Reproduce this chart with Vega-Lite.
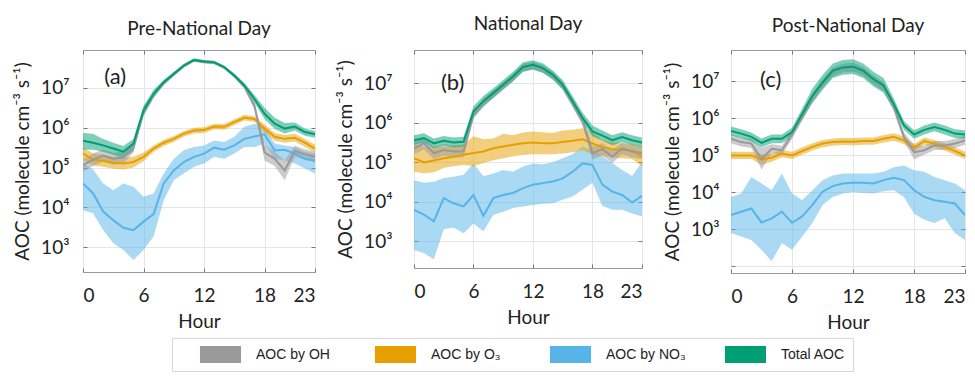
{
"$schema": "https://vega.github.io/schema/vega-lite/v6.json",
"padding": {"left": 13, "top": 4, "right": 2, "bottom": 2},
"spacing": 20,
"columns": 3,
"align": "none",
"config": {
  "font": "Lato",
  "view": {"stroke": "#9a9a9a"},
  "axis": {"domain": false, "labelFont": "Lato", "labelFontSize": 19, "labelColor": "#222", "titleFont": "Lato", "titleFontSize": 19, "titleFontWeight": "normal", "titleColor": "#222", "gridColor": "#e6e6e6", "tickColor": "#777"},
  "title": {"font": "Lato", "fontSize": 19, "fontWeight": "normal", "color": "#222"}
},
"data": {"values": [
{"panel":"a","series":"AOC by NO₃","hour":0,"mean":4.0e4,"lo":8.5e3,"hi":1.26e5},
{"panel":"a","series":"AOC by NO₃","hour":1,"mean":2.24e4,"lo":7.1e3,"hi":8.9e4},
{"panel":"a","series":"AOC by NO₃","hour":2,"mean":7.9e3,"lo":2.7e3,"hi":4.0e4},
{"panel":"a","series":"AOC by NO₃","hour":3,"mean":4.8e3,"lo":1.26e3,"hi":2.7e4},
{"panel":"a","series":"AOC by NO₃","hour":4,"mean":3.1e3,"lo":850,"hi":4.0e4},
{"panel":"a","series":"AOC by NO₃","hour":5,"mean":2.7e3,"lo":480,"hi":3.3e4},
{"panel":"a","series":"AOC by NO₃","hour":6,"mean":4.4e3,"lo":850,"hi":1.86e4},
{"panel":"a","series":"AOC by NO₃","hour":7,"mean":6.8e3,"lo":1.86e3,"hi":2.24e4},
{"panel":"a","series":"AOC by NO₃","hour":8,"mean":4.0e4,"lo":1.51e4,"hi":7.1e4},
{"panel":"a","series":"AOC by NO₃","hour":9,"mean":8.5e4,"lo":4.8e4,"hi":1.66e5},
{"panel":"a","series":"AOC by NO₃","hour":10,"mean":1.38e5,"lo":7.1e4,"hi":2.7e5},
{"panel":"a","series":"AOC by NO₃","hour":11,"mean":1.86e5,"lo":1.05e5,"hi":3.3e5},
{"panel":"a","series":"AOC by NO₃","hour":12,"mean":2.24e5,"lo":1.26e5,"hi":3.6e5},
{"panel":"a","series":"AOC by NO₃","hour":13,"mean":3.16e5,"lo":1.86e5,"hi":4.8e5},
{"panel":"a","series":"AOC by NO₃","hour":14,"mean":2.8e5,"lo":1.66e5,"hi":4.4e5},
{"panel":"a","series":"AOC by NO₃","hour":15,"mean":3.6e5,"lo":2.24e5,"hi":5.9e5},
{"panel":"a","series":"AOC by NO₃","hour":16,"mean":5.25e5,"lo":3.3e5,"hi":1.05e6},
{"panel":"a","series":"AOC by NO₃","hour":17,"mean":6.0e5,"lo":3.3e5,"hi":1.26e6},
{"panel":"a","series":"AOC by NO₃","hour":18,"mean":6.8e5,"lo":4.0e5,"hi":1.0e6},
{"panel":"a","series":"AOC by NO₃","hour":19,"mean":2.7e5,"lo":1.66e5,"hi":4.0e5},
{"panel":"a","series":"AOC by NO₃","hour":20,"mean":2.8e5,"lo":1.51e5,"hi":3.6e5},
{"panel":"a","series":"AOC by NO₃","hour":21,"mean":2.24e5,"lo":1.26e5,"hi":3.3e5},
{"panel":"a","series":"AOC by NO₃","hour":22,"mean":1.66e5,"lo":9.5e4,"hi":2.5e5},
{"panel":"a","series":"AOC by NO₃","hour":23,"mean":1.51e5,"lo":7.1e4,"hi":2.24e5},
{"panel":"a","series":"AOC by O₃","hour":0,"mean":2.24e5,"lo":1.58e5,"hi":3.16e5},
{"panel":"a","series":"AOC by O₃","hour":1,"mean":1.58e5,"lo":1.12e5,"hi":2.24e5},
{"panel":"a","series":"AOC by O₃","hour":2,"mean":1.48e5,"lo":1.05e5,"hi":2.1e5},
{"panel":"a","series":"AOC by O₃","hour":3,"mean":1.32e5,"lo":9.3e4,"hi":1.86e5},
{"panel":"a","series":"AOC by O₃","hour":4,"mean":1.26e5,"lo":8.9e4,"hi":1.78e5},
{"panel":"a","series":"AOC by O₃","hour":5,"mean":1.38e5,"lo":1.0e5,"hi":1.86e5},
{"panel":"a","series":"AOC by O₃","hour":6,"mean":1.86e5,"lo":1.45e5,"hi":2.4e5},
{"panel":"a","series":"AOC by O₃","hour":7,"mean":3.0e5,"lo":2.5e5,"hi":3.6e5},
{"panel":"a","series":"AOC by O₃","hour":8,"mean":4.2e5,"lo":3.5e5,"hi":5.0e5},
{"panel":"a","series":"AOC by O₃","hour":9,"mean":5.25e5,"lo":4.4e5,"hi":6.2e5},
{"panel":"a","series":"AOC by O₃","hour":10,"mean":7.1e5,"lo":6.0e5,"hi":8.3e5},
{"panel":"a","series":"AOC by O₃","hour":11,"mean":8.5e5,"lo":7.2e5,"hi":1.0e6},
{"panel":"a","series":"AOC by O₃","hour":12,"mean":8.7e5,"lo":7.4e5,"hi":1.02e6},
{"panel":"a","series":"AOC by O₃","hour":13,"mean":1.07e6,"lo":9.1e5,"hi":1.26e6},
{"panel":"a","series":"AOC by O₃","hour":14,"mean":1.05e6,"lo":8.9e5,"hi":1.23e6},
{"panel":"a","series":"AOC by O₃","hour":15,"mean":1.38e6,"lo":1.17e6,"hi":1.62e6},
{"panel":"a","series":"AOC by O₃","hour":16,"mean":1.78e6,"lo":1.51e6,"hi":2.1e6},
{"panel":"a","series":"AOC by O₃","hour":17,"mean":1.66e6,"lo":1.41e6,"hi":1.95e6},
{"panel":"a","series":"AOC by O₃","hour":18,"mean":9.5e5,"lo":7.6e5,"hi":1.2e6},
{"panel":"a","series":"AOC by O₃","hour":19,"mean":5.9e5,"lo":4.7e5,"hi":7.4e5},
{"panel":"a","series":"AOC by O₃","hour":20,"mean":5.25e5,"lo":4.2e5,"hi":6.6e5},
{"panel":"a","series":"AOC by O₃","hour":21,"mean":5.6e5,"lo":4.5e5,"hi":7.1e5},
{"panel":"a","series":"AOC by O₃","hour":22,"mean":4.2e5,"lo":3.3e5,"hi":5.2e5},
{"panel":"a","series":"AOC by O₃","hour":23,"mean":3.0e5,"lo":2.4e5,"hi":3.8e5},
{"panel":"a","series":"AOC by OH","hour":0,"mean":1.15e5,"lo":7.9e4,"hi":1.6e5},
{"panel":"a","series":"AOC by OH","hour":1,"mean":1.58e5,"lo":1.1e5,"hi":2.3e5},
{"panel":"a","series":"AOC by OH","hour":2,"mean":2.0e5,"lo":1.4e5,"hi":2.8e5},
{"panel":"a","series":"AOC by OH","hour":3,"mean":1.66e5,"lo":1.17e5,"hi":2.34e5},
{"panel":"a","series":"AOC by OH","hour":4,"mean":1.78e5,"lo":1.26e5,"hi":2.5e5},
{"panel":"a","series":"AOC by OH","hour":5,"mean":3.16e5,"lo":2.4e5,"hi":4.2e5},
{"panel":"a","series":"AOC by OH","hour":6,"mean":2.5e6,"lo":2.0e6,"hi":3.2e6},
{"panel":"a","series":"AOC by OH","hour":7,"mean":6.8e6,"lo":5.75e6,"hi":7.9e6},
{"panel":"a","series":"AOC by OH","hour":8,"mean":1.32e7,"lo":1.15e7,"hi":1.5e7},
{"panel":"a","series":"AOC by OH","hour":9,"mean":2.19e7,"lo":1.95e7,"hi":2.45e7},
{"panel":"a","series":"AOC by OH","hour":10,"mean":3.55e7,"lo":3.2e7,"hi":3.9e7},
{"panel":"a","series":"AOC by OH","hour":11,"mean":4.9e7,"lo":4.5e7,"hi":5.4e7},
{"panel":"a","series":"AOC by OH","hour":12,"mean":4.47e7,"lo":4.1e7,"hi":4.9e7},
{"panel":"a","series":"AOC by OH","hour":13,"mean":4.27e7,"lo":3.9e7,"hi":4.7e7},
{"panel":"a","series":"AOC by OH","hour":14,"mean":3.24e7,"lo":2.95e7,"hi":3.55e7},
{"panel":"a","series":"AOC by OH","hour":15,"mean":2.0e7,"lo":1.8e7,"hi":2.2e7},
{"panel":"a","series":"AOC by OH","hour":16,"mean":1.07e7,"lo":9.5e6,"hi":1.2e7},
{"panel":"a","series":"AOC by OH","hour":17,"mean":3.55e6,"lo":2.8e6,"hi":4.5e6},
{"panel":"a","series":"AOC by OH","hour":18,"mean":2.4e5,"lo":1.5e5,"hi":3.8e5},
{"panel":"a","series":"AOC by OH","hour":19,"mean":1.66e5,"lo":1.1e5,"hi":2.5e5},
{"panel":"a","series":"AOC by OH","hour":20,"mean":8.5e4,"lo":4.8e4,"hi":1.5e5},
{"panel":"a","series":"AOC by OH","hour":21,"mean":2.6e5,"lo":1.9e5,"hi":3.6e5},
{"panel":"a","series":"AOC by OH","hour":22,"mean":2.14e5,"lo":1.55e5,"hi":2.9e5},
{"panel":"a","series":"AOC by OH","hour":23,"mean":1.86e5,"lo":1.35e5,"hi":2.5e5},
{"panel":"a","series":"Total AOC","hour":0,"mean":4.7e5,"lo":2.8e5,"hi":7.4e5},
{"panel":"a","series":"Total AOC","hour":1,"mean":4.2e5,"lo":2.8e5,"hi":7.1e5},
{"panel":"a","series":"Total AOC","hour":2,"mean":3.6e5,"lo":2.5e5,"hi":5.2e5},
{"panel":"a","series":"Total AOC","hour":3,"mean":3.0e5,"lo":2.1e5,"hi":4.2e5},
{"panel":"a","series":"Total AOC","hour":4,"mean":2.5e5,"lo":1.7e5,"hi":3.5e5},
{"panel":"a","series":"Total AOC","hour":5,"mean":4.0e5,"lo":2.6e5,"hi":5.2e5},
{"panel":"a","series":"Total AOC","hour":6,"mean":2.7e6,"lo":2.0e6,"hi":3.5e6},
{"panel":"a","series":"Total AOC","hour":7,"mean":7.1e6,"lo":5.6e6,"hi":8.9e6},
{"panel":"a","series":"Total AOC","hour":8,"mean":1.38e7,"lo":1.2e7,"hi":1.58e7},
{"panel":"a","series":"Total AOC","hour":9,"mean":2.24e7,"lo":2.0e7,"hi":2.5e7},
{"panel":"a","series":"Total AOC","hour":10,"mean":3.63e7,"lo":3.3e7,"hi":4.0e7},
{"panel":"a","series":"Total AOC","hour":11,"mean":5.0e7,"lo":4.6e7,"hi":5.5e7},
{"panel":"a","series":"Total AOC","hour":12,"mean":4.57e7,"lo":4.2e7,"hi":5.0e7},
{"panel":"a","series":"Total AOC","hour":13,"mean":4.37e7,"lo":4.0e7,"hi":4.8e7},
{"panel":"a","series":"Total AOC","hour":14,"mean":3.31e7,"lo":3.0e7,"hi":3.6e7},
{"panel":"a","series":"Total AOC","hour":15,"mean":2.04e7,"lo":1.82e7,"hi":2.3e7},
{"panel":"a","series":"Total AOC","hour":16,"mean":1.15e7,"lo":1.0e7,"hi":1.32e7},
{"panel":"a","series":"Total AOC","hour":17,"mean":5.25e6,"lo":4.2e6,"hi":6.6e6},
{"panel":"a","series":"Total AOC","hour":18,"mean":2.24e6,"lo":1.66e6,"hi":3.16e6},
{"panel":"a","series":"Total AOC","hour":19,"mean":1.26e6,"lo":9.3e5,"hi":1.78e6},
{"panel":"a","series":"Total AOC","hour":20,"mean":9.5e5,"lo":7.2e5,"hi":1.32e6},
{"panel":"a","series":"Total AOC","hour":21,"mean":1.07e6,"lo":8.5e5,"hi":1.35e6},
{"panel":"a","series":"Total AOC","hour":22,"mean":7.8e5,"lo":6.3e5,"hi":9.5e5},
{"panel":"a","series":"Total AOC","hour":23,"mean":6.8e5,"lo":5.6e5,"hi":8.3e5},
{"panel":"b","series":"AOC by NO₃","hour":0,"mean":6.2e3,"lo":600,"hi":3.5e4},
{"panel":"b","series":"AOC by NO₃","hour":1,"mean":4.7e3,"lo":500,"hi":3.0e4},
{"panel":"b","series":"AOC by NO₃","hour":2,"mean":3.2e3,"lo":350,"hi":3.2e4},
{"panel":"b","series":"AOC by NO₃","hour":3,"mean":1.23e4,"lo":2.0e3,"hi":4.0e4},
{"panel":"b","series":"AOC by NO₃","hour":4,"mean":9.1e3,"lo":2.24e3,"hi":4.3e4},
{"panel":"b","series":"AOC by NO₃","hour":5,"mean":7.6e3,"lo":1.58e3,"hi":4.8e4},
{"panel":"b","series":"AOC by NO₃","hour":6,"mean":1.48e4,"lo":2.8e3,"hi":9.3e4},
{"panel":"b","series":"AOC by NO₃","hour":7,"mean":4.4e3,"lo":1.78e3,"hi":4.4e4},
{"panel":"b","series":"AOC by NO₃","hour":8,"mean":1.23e4,"lo":4.6e3,"hi":5.2e4},
{"panel":"b","series":"AOC by NO₃","hour":9,"mean":1.48e4,"lo":5.6e3,"hi":6.3e4},
{"panel":"b","series":"AOC by NO₃","hour":10,"mean":1.66e4,"lo":6.9e3,"hi":5.75e4},
{"panel":"b","series":"AOC by NO₃","hour":11,"mean":2.2e4,"lo":7.6e3,"hi":7.8e4},
{"panel":"b","series":"AOC by NO₃","hour":12,"mean":2.7e4,"lo":8.3e3,"hi":9.3e4},
{"panel":"b","series":"AOC by NO₃","hour":13,"mean":2.95e4,"lo":8.9e3,"hi":8.9e4},
{"panel":"b","series":"AOC by NO₃","hour":14,"mean":3.24e4,"lo":9.1e3,"hi":1.0e5},
{"panel":"b","series":"AOC by NO₃","hour":15,"mean":3.9e4,"lo":1.12e4,"hi":1.26e5},
{"panel":"b","series":"AOC by NO₃","hour":16,"mean":5.75e4,"lo":1.35e4,"hi":1.58e5},
{"panel":"b","series":"AOC by NO₃","hour":17,"mean":9.3e4,"lo":2.0e4,"hi":2.5e5},
{"panel":"b","series":"AOC by NO₃","hour":18,"mean":8.5e4,"lo":3.0e4,"hi":2.0e5},
{"panel":"b","series":"AOC by NO₃","hour":19,"mean":2.7e4,"lo":7.9e3,"hi":1.41e5},
{"panel":"b","series":"AOC by NO₃","hour":20,"mean":1.8e4,"lo":6.3e3,"hi":9.5e4},
{"panel":"b","series":"AOC by NO₃","hour":21,"mean":1.48e4,"lo":6.3e3,"hi":6.3e4},
{"panel":"b","series":"AOC by NO₃","hour":22,"mean":9.5e3,"lo":5.0e3,"hi":4.5e4},
{"panel":"b","series":"AOC by NO₃","hour":23,"mean":1.41e4,"lo":4.2e3,"hi":1.0e5},
{"panel":"b","series":"AOC by O₃","hour":0,"mean":1.26e5,"lo":5.75e4,"hi":3.0e5},
{"panel":"b","series":"AOC by O₃","hour":1,"mean":9.8e4,"lo":5.25e4,"hi":2.5e5},
{"panel":"b","series":"AOC by O₃","hour":2,"mean":1.1e5,"lo":5.6e4,"hi":2.5e5},
{"panel":"b","series":"AOC by O₃","hour":3,"mean":1.26e5,"lo":7.1e4,"hi":2.5e5},
{"panel":"b","series":"AOC by O₃","hour":4,"mean":1.38e5,"lo":7.9e4,"hi":2.6e5},
{"panel":"b","series":"AOC by O₃","hour":5,"mean":1.55e5,"lo":8.5e4,"hi":2.8e5},
{"panel":"b","series":"AOC by O₃","hour":6,"mean":1.7e5,"lo":7.9e4,"hi":4.5e5},
{"panel":"b","series":"AOC by O₃","hour":7,"mean":1.86e5,"lo":9.5e4,"hi":3.8e5},
{"panel":"b","series":"AOC by O₃","hour":8,"mean":2.24e5,"lo":1.12e5,"hi":4.0e5},
{"panel":"b","series":"AOC by O₃","hour":9,"mean":2.5e5,"lo":1.26e5,"hi":5.25e5},
{"panel":"b","series":"AOC by O₃","hour":10,"mean":2.75e5,"lo":1.41e5,"hi":4.8e5},
{"panel":"b","series":"AOC by O₃","hour":11,"mean":3.0e5,"lo":1.51e5,"hi":5.6e5},
{"panel":"b","series":"AOC by O₃","hour":12,"mean":3.16e5,"lo":1.58e5,"hi":6.0e5},
{"panel":"b","series":"AOC by O₃","hour":13,"mean":3.0e5,"lo":1.58e5,"hi":5.75e5},
{"panel":"b","series":"AOC by O₃","hour":14,"mean":3.0e5,"lo":1.58e5,"hi":5.5e5},
{"panel":"b","series":"AOC by O₃","hour":15,"mean":3.24e5,"lo":1.66e5,"hi":6.3e5},
{"panel":"b","series":"AOC by O₃","hour":16,"mean":3.47e5,"lo":1.78e5,"hi":6.6e5},
{"panel":"b","series":"AOC by O₃","hour":17,"mean":3.8e5,"lo":2.0e5,"hi":7.2e5},
{"panel":"b","series":"AOC by O₃","hour":18,"mean":3.0e5,"lo":1.58e5,"hi":5.6e5},
{"panel":"b","series":"AOC by O₃","hour":19,"mean":2.4e5,"lo":1.41e5,"hi":3.6e5},
{"panel":"b","series":"AOC by O₃","hour":20,"mean":2.14e5,"lo":1.32e5,"hi":3.16e5},
{"panel":"b","series":"AOC by O₃","hour":21,"mean":2.04e5,"lo":1.26e5,"hi":3.0e5},
{"panel":"b","series":"AOC by O₃","hour":22,"mean":2.0e5,"lo":1.2e5,"hi":2.9e5},
{"panel":"b","series":"AOC by O₃","hour":23,"mean":1.38e5,"lo":7.9e4,"hi":2.5e5},
{"panel":"b","series":"AOC by OH","hour":0,"mean":2.24e5,"lo":1.58e5,"hi":3.16e5},
{"panel":"b","series":"AOC by OH","hour":1,"mean":3.0e5,"lo":2.1e5,"hi":4.2e5},
{"panel":"b","series":"AOC by OH","hour":2,"mean":1.7e5,"lo":1.2e5,"hi":2.4e5},
{"panel":"b","series":"AOC by OH","hour":3,"mean":2.04e5,"lo":1.45e5,"hi":2.9e5},
{"panel":"b","series":"AOC by OH","hour":4,"mean":1.86e5,"lo":1.32e5,"hi":2.6e5},
{"panel":"b","series":"AOC by OH","hour":5,"mean":1.86e5,"lo":1.32e5,"hi":2.6e5},
{"panel":"b","series":"AOC by OH","hour":6,"mean":1.58e6,"lo":1.26e6,"hi":2.0e6},
{"panel":"b","series":"AOC by OH","hour":7,"mean":3.16e6,"lo":2.5e6,"hi":4.0e6},
{"panel":"b","series":"AOC by OH","hour":8,"mean":5.25e6,"lo":4.2e6,"hi":6.6e6},
{"panel":"b","series":"AOC by OH","hour":9,"mean":8.5e6,"lo":6.8e6,"hi":1.07e7},
{"panel":"b","series":"AOC by OH","hour":10,"mean":1.41e7,"lo":1.12e7,"hi":1.78e7},
{"panel":"b","series":"AOC by OH","hour":11,"mean":2.45e7,"lo":1.95e7,"hi":3.1e7},
{"panel":"b","series":"AOC by OH","hour":12,"mean":2.75e7,"lo":2.2e7,"hi":3.5e7},
{"panel":"b","series":"AOC by OH","hour":13,"mean":2.3e7,"lo":1.82e7,"hi":2.9e7},
{"panel":"b","series":"AOC by OH","hour":14,"mean":1.55e7,"lo":1.23e7,"hi":1.95e7},
{"panel":"b","series":"AOC by OH","hour":15,"mean":8.5e6,"lo":6.8e6,"hi":1.07e7},
{"panel":"b","series":"AOC by OH","hour":16,"mean":3.16e6,"lo":2.5e6,"hi":4.0e6},
{"panel":"b","series":"AOC by OH","hour":17,"mean":1.12e6,"lo":8.5e5,"hi":1.5e6},
{"panel":"b","series":"AOC by OH","hour":18,"mean":1.7e5,"lo":1.15e5,"hi":2.5e5},
{"panel":"b","series":"AOC by OH","hour":19,"mean":2.14e5,"lo":1.5e5,"hi":3.0e5},
{"panel":"b","series":"AOC by OH","hour":20,"mean":1.38e5,"lo":9.5e4,"hi":2.0e5},
{"panel":"b","series":"AOC by OH","hour":21,"mean":2.24e5,"lo":1.58e5,"hi":3.16e5},
{"panel":"b","series":"AOC by OH","hour":22,"mean":1.86e5,"lo":1.32e5,"hi":2.6e5},
{"panel":"b","series":"AOC by OH","hour":23,"mean":1.7e5,"lo":1.2e5,"hi":2.4e5},
{"panel":"b","series":"Total AOC","hour":0,"mean":3.6e5,"lo":2.75e5,"hi":4.8e5},
{"panel":"b","series":"Total AOC","hour":1,"mean":4.1e5,"lo":3.1e5,"hi":5.4e5},
{"panel":"b","series":"Total AOC","hour":2,"mean":3.0e5,"lo":2.3e5,"hi":4.0e5},
{"panel":"b","series":"Total AOC","hour":3,"mean":3.5e5,"lo":2.7e5,"hi":4.6e5},
{"panel":"b","series":"Total AOC","hour":4,"mean":3.16e5,"lo":2.4e5,"hi":4.2e5},
{"panel":"b","series":"Total AOC","hour":5,"mean":3.3e5,"lo":2.5e5,"hi":4.4e5},
{"panel":"b","series":"Total AOC","hour":6,"mean":1.9e6,"lo":1.4e6,"hi":2.6e6},
{"panel":"b","series":"Total AOC","hour":7,"mean":3.5e6,"lo":2.6e6,"hi":4.7e6},
{"panel":"b","series":"Total AOC","hour":8,"mean":5.6e6,"lo":4.2e6,"hi":7.4e6},
{"panel":"b","series":"Total AOC","hour":9,"mean":9.1e6,"lo":6.9e6,"hi":1.2e7},
{"panel":"b","series":"Total AOC","hour":10,"mean":1.48e7,"lo":1.12e7,"hi":1.95e7},
{"panel":"b","series":"Total AOC","hour":11,"mean":2.57e7,"lo":1.95e7,"hi":3.4e7},
{"panel":"b","series":"Total AOC","hour":12,"mean":2.9e7,"lo":2.2e7,"hi":3.8e7},
{"panel":"b","series":"Total AOC","hour":13,"mean":2.4e7,"lo":1.82e7,"hi":3.2e7},
{"panel":"b","series":"Total AOC","hour":14,"mean":1.62e7,"lo":1.23e7,"hi":2.1e7},
{"panel":"b","series":"Total AOC","hour":15,"mean":9.1e6,"lo":6.9e6,"hi":1.2e7},
{"panel":"b","series":"Total AOC","hour":16,"mean":3.5e6,"lo":2.6e6,"hi":4.7e6},
{"panel":"b","series":"Total AOC","hour":17,"mean":1.32e6,"lo":9.8e5,"hi":1.8e6},
{"panel":"b","series":"Total AOC","hour":18,"mean":6.0e5,"lo":4.5e5,"hi":8.5e5},
{"panel":"b","series":"Total AOC","hour":19,"mean":4.7e5,"lo":3.5e5,"hi":6.3e5},
{"panel":"b","series":"Total AOC","hour":20,"mean":3.6e5,"lo":2.7e5,"hi":4.8e5},
{"panel":"b","series":"Total AOC","hour":21,"mean":4.3e5,"lo":3.2e5,"hi":5.75e5},
{"panel":"b","series":"Total AOC","hour":22,"mean":3.6e5,"lo":2.7e5,"hi":4.8e5},
{"panel":"b","series":"Total AOC","hour":23,"mean":3.16e5,"lo":2.4e5,"hi":4.2e5},
{"panel":"c","series":"AOC by NO₃","hour":0,"mean":2.4e3,"lo":780,"hi":7.4e3},
{"panel":"c","series":"AOC by NO₃","hour":1,"mean":2.95e3,"lo":630,"hi":9.1e3},
{"panel":"c","series":"AOC by NO₃","hour":2,"mean":3.6e3,"lo":510,"hi":2.57e4},
{"panel":"c","series":"AOC by NO₃","hour":3,"mean":1.51e3,"lo":275,"hi":1.7e4},
{"panel":"c","series":"AOC by NO₃","hour":4,"mean":1.95e3,"lo":135,"hi":1.12e4},
{"panel":"c","series":"AOC by NO₃","hour":5,"mean":2.95e3,"lo":420,"hi":3.16e4},
{"panel":"c","series":"AOC by NO₃","hour":6,"mean":1.48e3,"lo":275,"hi":9.1e3},
{"panel":"c","series":"AOC by NO₃","hour":7,"mean":2.2e3,"lo":630,"hi":6.0e3},
{"panel":"c","series":"AOC by NO₃","hour":8,"mean":4.5e3,"lo":1.45e3,"hi":1.12e4},
{"panel":"c","series":"AOC by NO₃","hour":9,"mean":1.02e4,"lo":4.5e3,"hi":2.1e4},
{"panel":"c","series":"AOC by NO₃","hour":10,"mean":1.45e4,"lo":7.4e3,"hi":2.8e4},
{"panel":"c","series":"AOC by NO₃","hour":11,"mean":1.7e4,"lo":9.1e3,"hi":3.16e4},
{"panel":"c","series":"AOC by NO₃","hour":12,"mean":1.78e4,"lo":1.0e4,"hi":3.16e4},
{"panel":"c","series":"AOC by NO₃","hour":13,"mean":1.78e4,"lo":9.5e3,"hi":3.16e4},
{"panel":"c","series":"AOC by NO₃","hour":14,"mean":1.7e4,"lo":9.1e3,"hi":3.16e4},
{"panel":"c","series":"AOC by NO₃","hour":15,"mean":2.1e4,"lo":1.05e4,"hi":3.55e4},
{"panel":"c","series":"AOC by NO₃","hour":16,"mean":2.45e4,"lo":1.12e4,"hi":4.7e4},
{"panel":"c","series":"AOC by NO₃","hour":17,"mean":2.1e4,"lo":7.4e3,"hi":5.25e4},
{"panel":"c","series":"AOC by NO₃","hour":18,"mean":1.12e4,"lo":2.6e3,"hi":3.9e4},
{"panel":"c","series":"AOC by NO₃","hour":19,"mean":7.4e3,"lo":1.78e3,"hi":3.55e4},
{"panel":"c","series":"AOC by NO₃","hour":20,"mean":6.0e3,"lo":1.45e3,"hi":2.57e4},
{"panel":"c","series":"AOC by NO₃","hour":21,"mean":5.5e3,"lo":1.95e3,"hi":2.1e4},
{"panel":"c","series":"AOC by NO₃","hour":22,"mean":4.9e3,"lo":780,"hi":1.7e4},
{"panel":"c","series":"AOC by NO₃","hour":23,"mean":2.4e3,"lo":510,"hi":1.12e4},
{"panel":"c","series":"AOC by O₃","hour":0,"mean":9.8e4,"lo":7.8e4,"hi":1.23e5},
{"panel":"c","series":"AOC by O₃","hour":1,"mean":9.8e4,"lo":7.8e4,"hi":1.23e5},
{"panel":"c","series":"AOC by O₃","hour":2,"mean":9.8e4,"lo":7.8e4,"hi":1.23e5},
{"panel":"c","series":"AOC by O₃","hour":3,"mean":7.6e4,"lo":5.5e4,"hi":1.05e5},
{"panel":"c","series":"AOC by O₃","hour":4,"mean":8.5e4,"lo":6.6e4,"hi":1.1e5},
{"panel":"c","series":"AOC by O₃","hour":5,"mean":1.1e5,"lo":8.7e4,"hi":1.38e5},
{"panel":"c","series":"AOC by O₃","hour":6,"mean":9.8e4,"lo":7.8e4,"hi":1.23e5},
{"panel":"c","series":"AOC by O₃","hour":7,"mean":1.29e5,"lo":1.02e5,"hi":1.62e5},
{"panel":"c","series":"AOC by O₃","hour":8,"mean":1.66e5,"lo":1.32e5,"hi":2.1e5},
{"panel":"c","series":"AOC by O₃","hour":9,"mean":2.04e5,"lo":1.62e5,"hi":2.57e5},
{"panel":"c","series":"AOC by O₃","hour":10,"mean":2.24e5,"lo":1.78e5,"hi":2.8e5},
{"panel":"c","series":"AOC by O₃","hour":11,"mean":2.34e5,"lo":1.86e5,"hi":2.95e5},
{"panel":"c","series":"AOC by O₃","hour":12,"mean":2.3e5,"lo":1.82e5,"hi":2.9e5},
{"panel":"c","series":"AOC by O₃","hour":13,"mean":2.4e5,"lo":1.9e5,"hi":3.0e5},
{"panel":"c","series":"AOC by O₃","hour":14,"mean":2.4e5,"lo":1.9e5,"hi":3.0e5},
{"panel":"c","series":"AOC by O₃","hour":15,"mean":2.75e5,"lo":2.2e5,"hi":3.5e5},
{"panel":"c","series":"AOC by O₃","hour":16,"mean":3.1e5,"lo":2.45e5,"hi":3.9e5},
{"panel":"c","series":"AOC by O₃","hour":17,"mean":2.5e5,"lo":2.0e5,"hi":3.16e5},
{"panel":"c","series":"AOC by O₃","hour":18,"mean":1.58e5,"lo":1.26e5,"hi":2.0e5},
{"panel":"c","series":"AOC by O₃","hour":19,"mean":2.4e5,"lo":1.9e5,"hi":3.0e5},
{"panel":"c","series":"AOC by O₃","hour":20,"mean":2.04e5,"lo":1.62e5,"hi":2.57e5},
{"panel":"c","series":"AOC by O₃","hour":21,"mean":1.66e5,"lo":1.32e5,"hi":2.1e5},
{"panel":"c","series":"AOC by O₃","hour":22,"mean":1.29e5,"lo":1.02e5,"hi":1.62e5},
{"panel":"c","series":"AOC by O₃","hour":23,"mean":9.8e4,"lo":7.8e4,"hi":1.23e5},
{"panel":"c","series":"AOC by OH","hour":0,"mean":2.75e5,"lo":2.1e5,"hi":3.6e5},
{"panel":"c","series":"AOC by OH","hour":1,"mean":2.24e5,"lo":1.7e5,"hi":3.0e5},
{"panel":"c","series":"AOC by OH","hour":2,"mean":2.04e5,"lo":1.55e5,"hi":2.7e5},
{"panel":"c","series":"AOC by OH","hour":3,"mean":7.9e4,"lo":4.0e4,"hi":1.58e5},
{"panel":"c","series":"AOC by OH","hour":4,"mean":1.48e5,"lo":1.12e5,"hi":1.95e5},
{"panel":"c","series":"AOC by OH","hour":5,"mean":1.35e5,"lo":1.02e5,"hi":1.78e5},
{"panel":"c","series":"AOC by OH","hour":6,"mean":3.55e5,"lo":2.7e5,"hi":4.7e5},
{"panel":"c","series":"AOC by OH","hour":7,"mean":1.12e6,"lo":8.5e5,"hi":1.48e6},
{"panel":"c","series":"AOC by OH","hour":8,"mean":3.55e6,"lo":2.7e6,"hi":4.7e6},
{"panel":"c","series":"AOC by OH","hour":9,"mean":8.5e6,"lo":6.5e6,"hi":1.12e7},
{"panel":"c","series":"AOC by OH","hour":10,"mean":1.78e7,"lo":1.35e7,"hi":2.34e7},
{"panel":"c","series":"AOC by OH","hour":11,"mean":2.24e7,"lo":1.7e7,"hi":2.95e7},
{"panel":"c","series":"AOC by OH","hour":12,"mean":2.34e7,"lo":1.78e7,"hi":3.1e7},
{"panel":"c","series":"AOC by OH","hour":13,"mean":1.82e7,"lo":1.38e7,"hi":2.4e7},
{"panel":"c","series":"AOC by OH","hour":14,"mean":1.07e7,"lo":8.1e6,"hi":1.41e7},
{"panel":"c","series":"AOC by OH","hour":15,"mean":7.1e6,"lo":5.4e6,"hi":9.3e6},
{"panel":"c","series":"AOC by OH","hour":16,"mean":2.0e6,"lo":1.5e6,"hi":2.6e6},
{"panel":"c","series":"AOC by OH","hour":17,"mean":3.1e5,"lo":2.35e5,"hi":4.1e5},
{"panel":"c","series":"AOC by OH","hour":18,"mean":1.2e5,"lo":7.6e4,"hi":1.9e5},
{"panel":"c","series":"AOC by OH","hour":19,"mean":1.35e5,"lo":1.02e5,"hi":1.78e5},
{"panel":"c","series":"AOC by OH","hour":20,"mean":1.82e5,"lo":1.38e5,"hi":2.4e5},
{"panel":"c","series":"AOC by OH","hour":21,"mean":1.82e5,"lo":1.38e5,"hi":2.4e5},
{"panel":"c","series":"AOC by OH","hour":22,"mean":2.04e5,"lo":1.55e5,"hi":2.7e5},
{"panel":"c","series":"AOC by OH","hour":23,"mean":2.5e5,"lo":1.9e5,"hi":3.3e5},
{"panel":"c","series":"Total AOC","hour":0,"mean":4.5e5,"lo":3.4e5,"hi":5.9e5},
{"panel":"c","series":"Total AOC","hour":1,"mean":3.8e5,"lo":2.9e5,"hi":5.0e5},
{"panel":"c","series":"Total AOC","hour":2,"mean":3.1e5,"lo":2.35e5,"hi":4.1e5},
{"panel":"c","series":"Total AOC","hour":3,"mean":2.14e5,"lo":1.62e5,"hi":2.8e5},
{"panel":"c","series":"Total AOC","hour":4,"mean":2.75e5,"lo":2.1e5,"hi":3.6e5},
{"panel":"c","series":"Total AOC","hour":5,"mean":2.75e5,"lo":2.1e5,"hi":3.6e5},
{"panel":"c","series":"Total AOC","hour":6,"mean":4.2e5,"lo":3.2e5,"hi":5.5e5},
{"panel":"c","series":"Total AOC","hour":7,"mean":1.29e6,"lo":9.3e5,"hi":1.8e6},
{"panel":"c","series":"Total AOC","hour":8,"mean":4.0e6,"lo":2.5e6,"hi":6.3e6},
{"panel":"c","series":"Total AOC","hour":9,"mean":9.1e6,"lo":5.75e6,"hi":1.45e7},
{"panel":"c","series":"Total AOC","hour":10,"mean":1.9e7,"lo":1.2e7,"hi":3.0e7},
{"panel":"c","series":"Total AOC","hour":11,"mean":2.34e7,"lo":1.48e7,"hi":3.7e7},
{"panel":"c","series":"Total AOC","hour":12,"mean":2.45e7,"lo":1.55e7,"hi":3.9e7},
{"panel":"c","series":"Total AOC","hour":13,"mean":1.9e7,"lo":1.2e7,"hi":3.0e7},
{"panel":"c","series":"Total AOC","hour":14,"mean":1.12e7,"lo":7.1e6,"hi":1.78e7},
{"panel":"c","series":"Total AOC","hour":15,"mean":7.6e6,"lo":4.8e6,"hi":1.2e7},
{"panel":"c","series":"Total AOC","hour":16,"mean":2.4e6,"lo":1.7e6,"hi":3.4e6},
{"panel":"c","series":"Total AOC","hour":17,"mean":6.3e5,"lo":4.8e5,"hi":8.3e5},
{"panel":"c","series":"Total AOC","hour":18,"mean":3.6e5,"lo":2.75e5,"hi":4.7e5},
{"panel":"c","series":"Total AOC","hour":19,"mean":4.8e5,"lo":3.6e5,"hi":6.3e5},
{"panel":"c","series":"Total AOC","hour":20,"mean":5.75e5,"lo":4.4e5,"hi":7.6e5},
{"panel":"c","series":"Total AOC","hour":21,"mean":4.8e5,"lo":3.6e5,"hi":6.3e5},
{"panel":"c","series":"Total AOC","hour":22,"mean":3.8e5,"lo":2.9e5,"hi":5.0e5},
{"panel":"c","series":"Total AOC","hour":23,"mean":3.6e5,"lo":2.75e5,"hi":4.7e5}
]},
"concat": [
{
  "width": 232, "height": 222,
  "title": {"text": ["", "Pre-National Day"], "lineHeight": 15, "offset": 11},
  "layer": [
    {"transform": [{"filter": "datum.panel == 'a'"}],
     "mark": {"type": "area", "opacity": 0.5, "clip": true},
     "encoding": {
       "x": {"field": "hour", "type": "quantitative", "scale": {"domain": [0, 23], "nice": false}, "axis": {"orient": "bottom", "values": [0, 6, 12, 18, 23], "title": "Hour", "grid": true, "tickSize": -4, "labelPadding": 18, "titlePadding": 7}},
       "y": {"field": "lo", "type": "quantitative", "scale": {"type": "log", "domain": [240, 8.9e7], "nice": false}, "axis": {"orient": "left", "values": [1000, 10000, 100000, 1000000, 10000000], "labelExpr": "datum.value < 500 ? '' : '10' + ['⁰','¹','²','³','⁴','⁵','⁶','⁷','⁸','⁹'][round(log(datum.value)/LN10)]", "title": "AOC (molecule cm⁻³ s⁻¹)", "grid": true, "tickSize": -4, "labelPadding": 18, "titlePadding": 8}},
       "y2": {"field": "hi"},
       "color": {"field": "series", "type": "nominal",
         "scale": {"domain": ["AOC by OH", "AOC by O₃", "AOC by NO₃", "Total AOC"], "range": ["#999999", "#E69F00", "#56B4E9", "#009E73"]},
         "legend": {"orient": "none", "legendX": 89, "legendY": 288, "direction": "horizontal", "columns": 4, "title": null, "symbolType": "M1.35,-1H6.18V1H1.35Z", "symbolSize": 289, "symbolOpacity": 1, "symbolStrokeWidth": 0, "labelFont": "Liberation Sans", "labelFontSize": 14, "labelColor": "#222", "labelOffset": 59, "columnPadding": 19, "gridAlign": "all", "padding": 8, "strokeColor": "#d8d8d8", "labelLimit": 200}}
     }},
    {"transform": [{"filter": "datum.panel == 'a'"}],
     "mark": {"type": "line", "strokeWidth": 2, "clip": true},
     "encoding": {
       "x": {"field": "hour", "type": "quantitative", "axis": {"orient": "top", "values": [0, 6, 12, 18, 23], "labels": false, "title": null, "grid": false, "tickSize": -4}},
       "y": {"field": "mean", "type": "quantitative", "axis": {"orient": "right", "values": [1000, 10000, 100000, 1000000, 10000000], "labels": false, "title": null, "grid": false, "tickSize": -4}},
       "color": {"field": "series", "type": "nominal", "legend": null}
     }},
    {"data": {"values": [{}]},
     "mark": {"type": "text", "fontSize": 22, "font": "Lato", "color": "#222"},
     "encoding": {"x": {"datum": 3.2, "type": "quantitative", "axis": null}, "y": {"datum": 1.9e7, "type": "quantitative", "axis": null}, "text": {"value": "(a)"}}}
  ],
  "resolve": {"axis": {"x": "independent", "y": "independent"}}
},
{
  "width": 228, "height": 218,
  "title": {"text": ["", "National Day"], "lineHeight": 8, "offset": 16},
  "layer": [
    {"transform": [{"filter": "datum.panel == 'b'"}],
     "mark": {"type": "area", "opacity": 0.5, "clip": true},
     "encoding": {
       "x": {"field": "hour", "type": "quantitative", "scale": {"domain": [0, 23], "nice": false}, "axis": {"orient": "bottom", "values": [0, 6, 12, 18, 23], "title": "Hour", "grid": true, "tickSize": -4, "labelPadding": 18, "titlePadding": 7}},
       "y": {"field": "lo", "type": "quantitative", "scale": {"type": "log", "domain": [210, 6.9e7], "nice": false}, "axis": {"orient": "left", "values": [1000, 10000, 100000, 1000000, 10000000], "labelExpr": "datum.value < 500 ? '' : '10' + ['⁰','¹','²','³','⁴','⁵','⁶','⁷','⁸','⁹'][round(log(datum.value)/LN10)]", "title": "AOC (molecule cm⁻³ s⁻¹)", "grid": true, "tickSize": -4, "labelPadding": 26, "titlePadding": 8}},
       "y2": {"field": "hi"},
       "color": {"field": "series", "type": "nominal", "legend": null}
     }},
    {"transform": [{"filter": "datum.panel == 'b'"}],
     "mark": {"type": "line", "strokeWidth": 2, "clip": true},
     "encoding": {
       "x": {"field": "hour", "type": "quantitative", "axis": {"orient": "top", "values": [0, 6, 12, 18, 23], "labels": false, "title": null, "grid": false, "tickSize": -4}},
       "y": {"field": "mean", "type": "quantitative", "axis": {"orient": "right", "values": [1000, 10000, 100000, 1000000, 10000000], "labels": false, "title": null, "grid": false, "tickSize": -4}},
       "color": {"field": "series", "type": "nominal", "legend": null}
     }},
    {"data": {"values": [{}]},
     "mark": {"type": "text", "fontSize": 22, "font": "Lato", "color": "#222"},
     "encoding": {"x": {"datum": 3.9, "type": "quantitative", "axis": null}, "y": {"datum": 1.0e7, "type": "quantitative", "axis": null}, "text": {"value": "(b)"}}}
  ],
  "resolve": {"axis": {"x": "independent", "y": "independent"}}
},
{
  "width": 234, "height": 223,
  "title": {"text": "Post-National Day", "offset": 14},
  "layer": [
    {"transform": [{"filter": "datum.panel == 'c'"}],
     "mark": {"type": "area", "opacity": 0.5, "clip": true},
     "encoding": {
       "x": {"field": "hour", "type": "quantitative", "scale": {"domain": [0, 23], "nice": false}, "axis": {"orient": "bottom", "values": [0, 6, 12, 18, 23], "title": "Hour", "grid": true, "tickSize": -4, "labelPadding": 18, "titlePadding": 7}},
       "y": {"field": "lo", "type": "quantitative", "scale": {"type": "log", "domain": [65, 6.9e7], "nice": false}, "axis": {"orient": "left", "values": [100, 1000, 10000, 100000, 1000000, 10000000], "labelExpr": "datum.value < 500 ? '' : '10' + ['⁰','¹','²','³','⁴','⁵','⁶','⁷','⁸','⁹'][round(log(datum.value)/LN10)]", "title": "AOC (molecule cm⁻³ s⁻¹)", "grid": true, "tickSize": -4, "labelPadding": 16, "titlePadding": 8}},
       "y2": {"field": "hi"},
       "color": {"field": "series", "type": "nominal", "legend": null}
     }},
    {"transform": [{"filter": "datum.panel == 'c'"}],
     "mark": {"type": "line", "strokeWidth": 2, "clip": true},
     "encoding": {
       "x": {"field": "hour", "type": "quantitative", "axis": {"orient": "top", "values": [0, 6, 12, 18, 23], "labels": false, "title": null, "grid": false, "tickSize": -4}},
       "y": {"field": "mean", "type": "quantitative", "axis": {"orient": "right", "values": [100, 1000, 10000, 100000, 1000000, 10000000], "labels": false, "title": null, "grid": false, "tickSize": -4}},
       "color": {"field": "series", "type": "nominal", "legend": null}
     }},
    {"data": {"values": [{}]},
     "mark": {"type": "text", "fontSize": 22, "font": "Lato", "color": "#222"},
     "encoding": {"x": {"datum": 3.9, "type": "quantitative", "axis": null}, "y": {"datum": 1.07e7, "type": "quantitative", "axis": null}, "text": {"value": "(c)"}}}
  ],
  "resolve": {"axis": {"x": "independent", "y": "independent"}}
}
]
}
